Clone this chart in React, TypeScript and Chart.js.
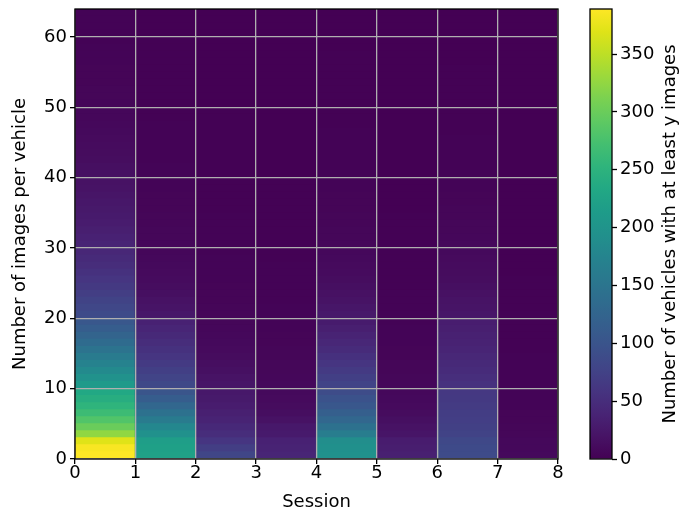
import React, { useEffect, useRef } from "react";
import { Chart, registerables } from "chart.js";

Chart.register(...registerables);

// Sessions along x, one column per session (edges at 0..8)
const sessions = [0, 1, 2, 3, 4, 5, 6, 7];
const rowCount = 64; // y = number of images per vehicle (rows 0..63)

// Number of vehicles with at least y images, per session, rows y = 0..63
const session0 = [
  389, 386, 370, 325, 300, 282, 266, 253, 242, 233,
  210, 197, 184, 172, 160, 147, 135, 124, 114, 105,
  88, 82, 76, 70, 65, 60, 55, 50, 46, 42,
  39, 36, 33, 30, 28, 26, 24, 22, 20, 18,
  16, 15, 13, 12, 11, 10, 9, 8, 7, 7,
  6, 5, 5, 4, 4, 4, 3, 3, 3, 2, 2, 2, 2, 2,
];
const session1 = [
  222, 220, 218, 195, 179, 160, 144, 128, 113, 101,
  85, 78, 72, 66, 60, 55, 50, 45, 40, 36,
  24, 21, 18, 15, 13, 11, 10, 9, 8, 7,
  7, 6, 6, 5, 5, 4, 4, 4, 3, 3,
  3, 3, 2, 2, 2, 2, 2, 2, 1, 1,
  1, 1, 1, 1, 1, 1, 1, 1, 1, 1, 0, 0, 0, 0,
];
const session2 = [
  80, 70, 60, 50, 44, 38, 34, 30, 27, 25,
  22, 19, 16, 14, 12, 10, 9, 8, 7, 6,
  5, 5, 4, 4, 4, 3, 3, 3, 3, 2,
  2, 2, 2, 2, 2, 1, 1, 1, 1, 1,
  1, 1, 1, 1, 1, 1, 1, 1, 1, 1,
  0, 0, 0, 0, 0, 0, 0, 0, 0, 0, 0, 0, 0, 0,
];
const session3 = [
  40, 38, 36, 28, 25, 18, 14, 12, 10, 9,
  8, 7, 6, 6, 5, 5, 4, 4, 3, 3,
  3, 3, 2, 2, 2, 2, 2, 2, 1, 1,
  1, 1, 1, 1, 1, 1, 1, 1, 1, 1,
  0, 0, 0, 0, 0, 0, 0, 0, 0, 0,
  0, 0, 0, 0, 0, 0, 0, 0, 0, 0, 0, 0, 0, 0,
];
const session4 = [
  195, 193, 190, 163, 144, 128, 117, 105, 97, 89,
  78, 72, 66, 60, 54, 48, 43, 38, 33, 29,
  26, 23, 20, 17, 15, 13, 11, 10, 9, 8,
  7, 6, 6, 5, 5, 4, 4, 4, 3, 3,
  3, 2, 2, 2, 2, 2, 2, 1, 1, 1,
  1, 1, 1, 1, 1, 1, 1, 1, 0, 0, 0, 0, 0, 0,
];
const session5 = [
  34, 32, 30, 22, 18, 15, 12, 10, 9, 8,
  7, 6, 5, 5, 4, 4, 3, 3, 3, 2,
  2, 2, 2, 2, 1, 1, 1, 1, 1, 1,
  1, 1, 1, 1, 1, 0, 0, 0, 0, 0,
  0, 0, 0, 0, 0, 0, 0, 0, 0, 0,
  0, 0, 0, 0, 0, 0, 0, 0, 0, 0, 0, 0, 0, 0,
];
const session6 = [
  88, 86, 84, 76, 73, 71, 69, 67, 65, 63,
  55, 51, 48, 45, 42, 39, 37, 35, 33, 31,
  23, 21, 19, 17, 15, 13, 12, 11, 10, 9,
  8, 7, 6, 6, 5, 5, 4, 4, 3, 3,
  3, 2, 2, 2, 2, 2, 1, 1, 1, 1,
  1, 1, 1, 1, 1, 1, 0, 0, 0, 0, 0, 0, 0, 0,
];
const session7 = [
  9, 8, 8, 6, 5, 4, 4, 3, 3, 3,
  2, 2, 2, 2, 2, 1, 1, 1, 1, 1,
  1, 1, 1, 1, 1, 1, 0, 0, 0, 0,
  0, 0, 0, 0, 0, 0, 0, 0, 0, 0,
  0, 0, 0, 0, 0, 0, 0, 0, 0, 0,
  0, 0, 0, 0, 0, 0, 0, 0, 0, 0, 0, 0, 0, 0,
];
const sessionCounts = [session0, session1, session2, session3, session4, session5, session6, session7];

// Axis ticks
const xTicks = [0, 1, 2, 3, 4, 5, 6, 7, 8];
const yTicks = [0, 10, 20, 30, 40, 50, 60];
const colorbarTicks = [0, 50, 100, 150, 200, 250, 300, 350];

const countMax = Math.max(...sessionCounts.flat());

// Viridis colormap stops (every 0.05)
const viridisStops = [
  "#440154", "#471365", "#482475", "#463480", "#414487", "#3b528b", "#355f8d",
  "#2f6c8e", "#2a788e", "#25848e", "#21918c", "#1e9c89", "#22a884", "#2fb47c",
  "#44bf70", "#5ec962", "#7ad151", "#9bd93c", "#bddf26", "#dfe318", "#fde725",
];

function hexToRgb(h: string): number[] {
  return [1, 3, 5].map((i) => parseInt(h.slice(i, i + 2), 16));
}
const viridisRgb = viridisStops.map(hexToRgb);

function viridis(t: number): string {
  const v = Math.min(1, Math.max(0, t)) * (viridisRgb.length - 1);
  const i = Math.min(viridisRgb.length - 2, Math.floor(v));
  const f = v - i;
  const a = viridisRgb[i];
  const b = viridisRgb[i + 1];
  const c = a.map((ch, k) => Math.round(ch + (b[k] - ch) * f));
  return `rgb(${c[0]},${c[1]},${c[2]})`;
}

const FONT = "'DejaVu Sans', sans-serif";
const FONT_SIZE = 18;
const TICK_LEN = 5;

const framePlugin = {
  id: "frame",
  afterDraw(chart: any) {
    const { ctx, chartArea } = chart;
    ctx.save();
    ctx.strokeStyle = "#000";
    ctx.lineWidth = 1.3;
    ctx.strokeRect(chartArea.left, chartArea.top, chartArea.right - chartArea.left, chartArea.bottom - chartArea.top);
    ctx.restore();
  },
};

const colorbarTitlePlugin = {
  id: "colorbarTitle",
  afterDraw(chart: any) {
    const { ctx, chartArea } = chart;
    ctx.save();
    ctx.translate(90, (chartArea.top + chartArea.bottom) / 2);
    ctx.rotate(-Math.PI / 2);
    ctx.font = `${FONT_SIZE}px ${FONT}`;
    ctx.fillStyle = "#000";
    ctx.textAlign = "center";
    ctx.textBaseline = "middle";
    ctx.fillText("Number of vehicles with at least y images", 0, 0);
    ctx.restore();
  },
};

function noEdgePadding(scale: any) {
  scale.paddingTop = 0;
  scale.paddingBottom = 0;
  scale.paddingLeft = 0;
  scale.paddingRight = 0;
}

export default function App() {
  const mainRef = useRef<HTMLCanvasElement>(null);
  const barRef = useRef<HTMLCanvasElement>(null);

  useEffect(() => {
    Chart.defaults.font.family = FONT;
    Chart.defaults.font.size = FONT_SIZE;
    Chart.defaults.color = "#000";

    // One floating-bar dataset per row; each bar is a cell [row, row + 1] in one session column
    const datasets = Array.from({ length: rowCount }, (_, row) => ({
      data: sessions.map((s) => ({ x: s + 0.5, y: [row, row + 1] })),
      backgroundColor: sessions.map((_, i) => viridis(sessionCounts[i][row] / countMax)),
      borderWidth: 0,
      inflateAmount: 0.6,
      grouped: false,
      barPercentage: 1,
      categoryPercentage: 1,
    }));

    const gridStyle = {
      color: "#b0b0b0",
      lineWidth: 1.3,
      tickColor: "#000",
      tickLength: TICK_LEN,
      tickWidth: 1.3,
      z: 1,
    };
    const tickFont = { family: FONT, size: FONT_SIZE, lineHeight: 1 };

    const main = new Chart(mainRef.current!, {
      type: "bar",
      data: { datasets: datasets as any },
      options: {
        responsive: false,
        animation: false,
        layout: { padding: { left: 0, top: 9, right: 22, bottom: 0 } },
        plugins: { legend: { display: false }, tooltip: { enabled: false } },
        scales: {
          x: {
            type: "linear",
            min: xTicks[0],
            max: xTicks[xTicks.length - 1],
            offset: false,
            grid: { ...gridStyle, offset: false },
            border: { display: false },
            ticks: { stepSize: 1, padding: 0, includeBounds: false, maxRotation: 0, font: tickFont },
            title: { display: true, text: "Session", padding: { top: 0, bottom: 1 } },
            afterFit: (scale: any) => { scale.height = 55; noEdgePadding(scale); },
          },
          y: {
            type: "linear",
            min: 0,
            max: rowCount,
            grid: gridStyle,
            border: { display: false },
            ticks: {
              stepSize: yTicks[1] - yTicks[0],
              padding: 3,
              includeBounds: false,
              font: tickFont,
            },
            title: { display: true, text: "Number of images per vehicle", padding: { top: 10, bottom: 0 } },
            afterFit: (scale: any) => { scale.width = 75; noEdgePadding(scale); },
          },
        },
      } as any,
      plugins: [framePlugin],
    });

    const colorbar = new Chart(barRef.current!, {
      type: "bar",
      data: {
        labels: [""],
        datasets: [
          {
            data: [[0, countMax]] as any,
            backgroundColor: (c: any) => {
              const area = c.chart.chartArea;
              if (!area) return viridisStops[0];
              const g = c.chart.ctx.createLinearGradient(0, area.bottom, 0, area.top);
              viridisStops.forEach((col, i) => g.addColorStop(i / (viridisStops.length - 1), col));
              return g;
            },
            borderWidth: 0,
            barPercentage: 1,
            categoryPercentage: 1,
          },
        ],
      },
      options: {
        responsive: false,
        animation: false,
        layout: { padding: { left: 10, top: 9, right: 0, bottom: 55 } },
        plugins: { legend: { display: false }, tooltip: { enabled: false } },
        scales: {
          x: { display: false },
          y: {
            position: "right",
            min: 0,
            max: countMax,
            grid: { drawOnChartArea: false, tickColor: "#000", tickLength: TICK_LEN, tickWidth: 1.3 },
            border: { display: false },
            ticks: {
              stepSize: colorbarTicks[1] - colorbarTicks[0],
              padding: 3,
              includeBounds: false,
              font: tickFont,
            },
            afterFit: (scale: any) => { scale.width = 68; noEdgePadding(scale); },
          },
        },
      } as any,
      plugins: [framePlugin, colorbarTitlePlugin],
    });

    return () => {
      main.destroy();
      colorbar.destroy();
    };
  }, []);

  return (
    <div style={{ position: "absolute", left: 0, top: 0, width: 680, height: 514, background: "#fff" }}>
      <canvas ref={mainRef} width={580} height={514} style={{ position: "absolute", left: 0, top: 0 }} />
      <canvas ref={barRef} width={100} height={514} style={{ position: "absolute", left: 580, top: 0 }} />
    </div>
  );
}
